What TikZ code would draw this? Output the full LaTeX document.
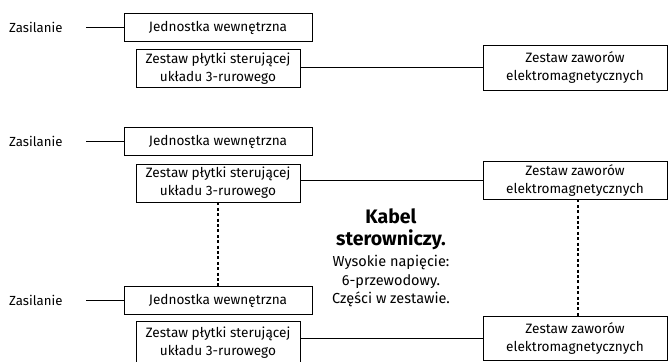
\documentclass[tikz,border=0pt]{standalone}
\usepackage{fontspec}
\setmainfont{Fira Sans}
\usetikzlibrary{positioning, calc}

\begin{document}
\begin{tikzpicture}[x=1pt, y=-1pt,
  box/.style={draw, line width=0.8pt, align=center, inner sep=0pt, font=\fontsize{13.6}{18}\selectfont},
  lbl/.style={anchor=west, inner sep=0pt, font=\fontsize{13.2}{18}\selectfont},
  wire/.style={line width=0.8pt},
  cable/.style={line width=1.6pt, dash pattern=on 3pt off 2.4pt}]
  \useasboundingbox (0,0) rectangle (668,361);

  % trzy zestawy: numer / y jednostki / y plytki / wys. plytki / y zaworow / wys. zaworow
  \foreach \n/\yj/\yc/\hc/\yv/\hv in {1/27.5/68.5/38/67.5/45, 2/141.5/183/38/180/38, 3/300.5/343/44/338/44} {
    \node[lbl] (zas\n) at (9, \yj) {Zasilanie};
    \node[box, minimum width=188pt, minimum height=28pt] (jw\n) at (218, \yj) {Jednostka wewnętrzna};
    \node[box, minimum width=164pt, minimum height=\hc pt] (ctl\n) at (218, \yc) {Zestaw płytki sterującej\\układu 3-rurowego};
    \node[box, minimum width=184pt, minimum height=\hv pt] (val\n) at (575, \yv) {Zestaw zaworów\\elektromagnetycznych};
    \draw[wire] (jw\n.west) -- ++(-38, 0);
    \draw[wire] (ctl\n.east |- val\n.west) -- (val\n.west);
  }

  \draw[cable] (ctl2.south) -- (jw3.north);
  \draw[cable] ([xshift=3pt]val2.south) -- ([xshift=3pt]val3.north);

  \node[font=\fontsize{19.5}{22}\selectfont\bfseries, align=center] (kabel) at (391, 229) {Kabel\\sterowniczy.};
  \node[font=\fontsize{14.5}{18.5}\selectfont, align=center, below=-1pt of kabel] (opis) {Wysokie napięcie:\\6-przewodowy.\\Części w zestawie.};
\end{tikzpicture}
\end{document}
